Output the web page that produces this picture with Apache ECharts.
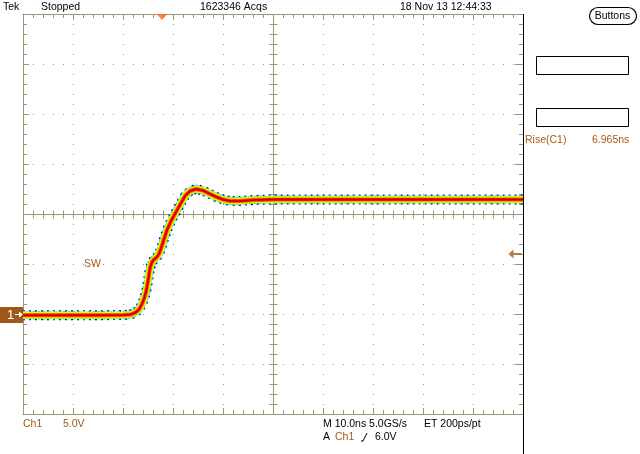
<!DOCTYPE html>
<html><head><meta charset="utf-8">
<script src="https://cdn.jsdelivr.net/npm/echarts@6/dist/echarts.min.js"></script>
<style>html,body{margin:0;padding:0;background:#fff;overflow:hidden}#c{width:640px;height:454px}</style>
</head><body><div id="c"></div>
<script>
// ---- data (time in ns, voltage in V) ----
const timeNs = [0, 5, 10, 15, 20, 21.5, 22.5, 23.2, 23.7, 24.2, 24.6, 25.0, 25.4, 25.8, 26.2, 26.7, 27.2, 27.7, 28.2, 28.8, 29.6, 30.6, 31.6, 32.4, 33.4, 34.6, 36.0, 37.4, 38.7, 40.0, 41.4, 43.4, 46, 50, 60, 70, 80, 90, 100];
const voltsV = [-0.12, -0.12, -0.12, -0.12, -0.1, -0.06, 0.15, 0.45, 0.9, 1.5, 2.2, 3.3, 4.6, 5.2, 5.45, 5.65, 6.0, 6.7, 7.5, 8.4, 9.3, 10.2, 11.1, 11.8, 12.3, 12.5, 12.35, 12.0, 11.7, 11.45, 11.3, 11.3, 11.4, 11.45, 11.45, 11.45, 11.45, 11.45, 11.45];
const timeRange = [0, 100];      // 10 divisions x 10.0 ns
const nsPerDiv = 10;
const voltRange = [-10, 30];     // 8 divisions x 5.0 V
const voltsPerDiv = 5;
const centerPoint = [50, 10];
const triggerTimeNs = 27.8;
const triggerLevelV = 6.0;
const groundLevelV = 0;
const persistenceColors = ['#0000ff', '#00d8ff', '#7cff00', '#ffff00', '#ff8a00', '#ff1a00', '#c80000'];
const headerTexts = ['Tek', 'Stopped', '1623346 Acqs', '18 Nov 13 12:44:33'];
const measLabel = 'Rise(C1)', measValue = '6.965ns';
const chLabel = 'Ch1', chScale = '5.0V', timebase = 'M 10.0ns 5.0GS/s', etText = 'ET 200ps/pt', trigLevelText = '6.0V';

const GRAT = '#9d9676';
const BROWN = '#a0581a';
const FONT = '"Liberation Sans", Arial, sans-serif';

const chart = echarts.init(document.getElementById('c'), null, {renderer: 'canvas'});
const pts = timeNs.map((t, i) => [t, voltsV[i]]);

function axisBase(extra) {
  return Object.assign({
    type: 'value', axisLabel: {show: false},
    axisLine: {show: true, onZero: false, lineStyle: {color: GRAT, width: 1}},
    axisTick: {show: true, inside: true, length: 6, lineStyle: {color: GRAT}},
    minorTick: {show: true, splitNumber: 5, length: 4, lineStyle: {color: GRAT}},
    splitLine: {show: false}
  }, extra);
}

function renderCross(params, api) {
  const ch = [];
  const L = api.coord([timeRange[0], centerPoint[1]]), R = api.coord([timeRange[1], centerPoint[1]]);
  const T = api.coord([centerPoint[0], voltRange[1]]), B = api.coord([centerPoint[0], voltRange[0]]);
  const cy = Math.round(L[1]) + 0.5, cx = Math.round(T[0]) + 0.5;
  const st = {stroke: GRAT, lineWidth: 1};
  ch.push({type: 'line', shape: {x1: L[0], y1: cy, x2: R[0], y2: cy}, style: st});
  ch.push({type: 'line', shape: {x1: cx, y1: T[1], x2: cx, y2: B[1]}, style: st});
  for (let t = timeRange[0]; t <= timeRange[1]; t += nsPerDiv / 5) {
    const x = Math.round(api.coord([t, centerPoint[1]])[0]) + 0.5;
    ch.push({type: 'line', shape: {x1: x, y1: cy - 4, x2: x, y2: cy + 4}, style: st});
  }
  for (let v = voltRange[0]; v <= voltRange[1]; v += voltsPerDiv / 5) {
    const y = Math.round(api.coord([centerPoint[0], v])[1]) + 0.5;
    ch.push({type: 'line', shape: {x1: cx - 4, y1: y, x2: cx + 4, y2: y}, style: st});
  }
  return {type: 'group', children: ch};
}

const widths = [10, 8.5, 7.5, 6, 4.5, 3, 1.5];
const dashes = [[2, 4], [2, 3], null, null, null, null, null];
const traceSeries = persistenceColors.map((c, i) => ({
  type: 'line', data: pts, showSymbol: false, silent: true, animation: false,
  z: 5 + i, smooth: false,
  lineStyle: {color: c, width: widths[i], type: dashes[i] || 'solid', join: 'round', cap: 'butt'}
}));

chart.setOption({
  animation: false,
  backgroundColor: '#fff',
  grid: {left: 23, top: 14, width: 500, height: 400, outerBoundsMode: 'none', containLabel: false},
  xAxis: [
    axisBase({min: timeRange[0], max: timeRange[1], interval: nsPerDiv, position: 'bottom',
      splitLine: {show: true, lineStyle: {color: GRAT, width: 1, type: [1, 9]}}}),
    axisBase({min: timeRange[0], max: timeRange[1], interval: nsPerDiv, position: 'top'})
  ],
  yAxis: [
    axisBase({min: voltRange[0], max: voltRange[1], interval: voltsPerDiv, position: 'left',
      splitLine: {show: true, lineStyle: {color: GRAT, width: 1, type: [1, 9]}}}),
    axisBase({min: voltRange[0], max: voltRange[1], interval: voltsPerDiv, position: 'right',
      axisLine: {show: false, onZero: false}, axisTick: {show: true, inside: true, length: 8, lineStyle: {color: GRAT}}})
  ],
  series: [
    {type: 'custom', renderItem: renderCross, data: [centerPoint], silent: true, z: 2, clip: false},
    ...traceSeries,
    {type: 'scatter', data: [[triggerTimeNs, voltRange[1]]], symbol: 'triangle', symbolRotate: 180,
      symbolSize: [11, 6], symbolOffset: [0, 3], itemStyle: {color: '#ff6a1a'}, clip: false, z: 20, silent: true},
    {type: 'scatter', data: [[timeRange[1], triggerLevelV]], symbol: 'path://M0,4.5 L5,0 L5,3.5 L13,3.5 L13,5.5 L5,5.5 L5,9 Z',
      symbolSize: [13, 9], symbolOffset: [-8, 0], itemStyle: {color: BROWN}, clip: false, z: 20, silent: true}
  ]
});

const gp = chart.convertToPixel({yAxisIndex: 0}, groundLevelV);
const rightX = chart.convertToPixel({xAxisIndex: 0}, timeRange[1]);
const txt = (x, y, s, color, extra) => Object.assign({type: 'text', x, y, z: 50,
  style: {text: s, fill: color || '#000', font: '10.5px ' + FONT, textVerticalAlign: 'middle'}}, extra || {});

chart.setOption({
  graphic: [
    txt(3, 7, headerTexts[0]), txt(41, 7, headerTexts[1]), txt(200, 7, headerTexts[2]), txt(400, 7, headerTexts[3]),
    {type: 'rect', shape: {x: 589.5, y: 7.5, width: 47, height: 17, r: 8.5}, style: {fill: '#fff', stroke: '#000', lineWidth: 1.2}, z: 49},
    txt(612.5, 16, 'Buttons', '#000', {style: {text: 'Buttons', fill: '#000', font: '10.5px ' + FONT, textVerticalAlign: 'middle', textAlign: 'center'}}),
    {type: 'rect', shape: {x: 536.5, y: 56.5, width: 92, height: 18}, style: {fill: '#fff', stroke: '#000', lineWidth: 1}, z: 49},
    {type: 'rect', shape: {x: 536.5, y: 108.5, width: 92, height: 18}, style: {fill: '#fff', stroke: '#000', lineWidth: 1}, z: 49},
    txt(525, 140, measLabel, '#a85a14'), txt(592, 140, measValue, '#a85a14'),
    txt(84, 264, 'SW', '#a5601f'),
    txt(23, 424, chLabel, BROWN), txt(63, 424, chScale, BROWN),
    txt(323, 424, timebase), txt(424, 424, etText),
    txt(323, 437, 'A'), txt(335, 437, chLabel, BROWN),
    {type: 'polyline', shape: {points: [[361, 441], [363, 441], [367, 433]]}, style: {stroke: '#000', lineWidth: 1, fill: null}, z: 50},
    txt(375, 437, trigLevelText),
    {type: 'line', shape: {x1: Math.round(rightX) + 0.5, y1: 14, x2: Math.round(rightX) + 0.5, y2: 454}, style: {stroke: '#000', lineWidth: 1}, z: 40},
    {type: 'rect', shape: {x: 0, y: Math.round(gp) - 7, width: 23, height: 16}, style: {fill: BROWN}, z: 45},
    txt(7, Math.round(gp) + 1, '1', '#fff', {style: {text: '1', fill: '#fff', font: '13px ' + FONT, textVerticalAlign: 'middle'}}),
    {type: 'polyline', shape: {points: [[15, Math.round(gp) + 0.5], [22, Math.round(gp) + 0.5]]}, style: {stroke: '#fff', lineWidth: 1}, z: 50},
    {type: 'polygon', shape: {points: [[23, Math.round(gp) + 0.5], [19, Math.round(gp) - 2.5], [19, Math.round(gp) + 3.5]]}, style: {fill: '#fff'}, z: 50}
  ]
});
</script></body></html>
